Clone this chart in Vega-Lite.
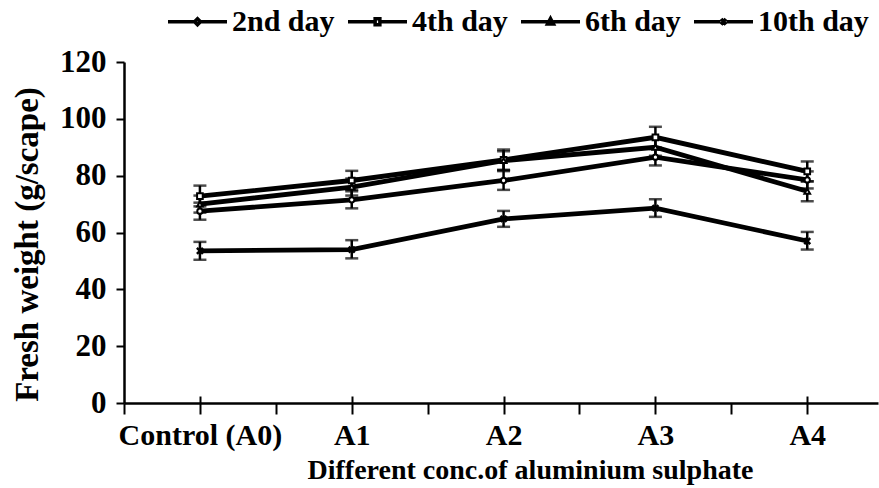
{
  "$schema": "https://vega.github.io/schema/vega-lite/v6.json",
  "width": 754,
  "height": 341,
  "autosize": "none",
  "padding": {"left": 124, "top": 62, "right": 1, "bottom": 85},
  "background": "white",
  "config": {"view": {"stroke": null}, "font": "Liberation Serif"},
  "data": {
    "values": [
      {"series": "2nd day", "idx": 0, "fw": 67.5, "lo": 64.5, "hi": 70.5},
      {"series": "2nd day", "idx": 1, "fw": 71.5, "lo": 68.5, "hi": 74.5},
      {"series": "2nd day", "idx": 2, "fw": 78.3, "lo": 75.0, "hi": 81.6},
      {"series": "2nd day", "idx": 3, "fw": 86.5, "lo": 83.6, "hi": 89.4},
      {"series": "2nd day", "idx": 4, "fw": 78.5, "lo": 75.5, "hi": 81.5},
      {"series": "4th day", "idx": 0, "fw": 72.8, "lo": 69.2, "hi": 76.5},
      {"series": "4th day", "idx": 1, "fw": 78.3, "lo": 75.0, "hi": 81.7},
      {"series": "4th day", "idx": 2, "fw": 85.6, "lo": 82.0, "hi": 89.2},
      {"series": "4th day", "idx": 3, "fw": 93.5, "lo": 89.9, "hi": 97.2},
      {"series": "4th day", "idx": 4, "fw": 81.5, "lo": 78.0, "hi": 85.0},
      {"series": "6th day", "idx": 0, "fw": 70.0, "lo": 67.0, "hi": 73.0},
      {"series": "6th day", "idx": 1, "fw": 76.0, "lo": 73.0, "hi": 79.0},
      {"series": "6th day", "idx": 2, "fw": 85.3, "lo": 82.0, "hi": 88.6},
      {"series": "6th day", "idx": 3, "fw": 90.0, "lo": 87.0, "hi": 93.0},
      {"series": "6th day", "idx": 4, "fw": 74.5, "lo": 71.0, "hi": 78.0},
      {"series": "10th day", "idx": 0, "fw": 53.5, "lo": 50.4, "hi": 56.7},
      {"series": "10th day", "idx": 1, "fw": 54.0, "lo": 50.9, "hi": 57.3},
      {"series": "10th day", "idx": 2, "fw": 64.8, "lo": 62.0, "hi": 67.6},
      {"series": "10th day", "idx": 3, "fw": 68.6, "lo": 65.5, "hi": 71.7},
      {"series": "10th day", "idx": 4, "fw": 57.0, "lo": 54.0, "hi": 60.2}
    ]
  },
  "resolve": {"axis": {"x": "independent"}},
  "layer": [
    {
      "mark": {"type": "line", "strokeWidth": 4.8, "color": "black"},
      "encoding": {
        "x": {
          "field": "idx", "type": "quantitative",
          "scale": {"domain": [-0.5, 4.466], "nice": false, "zero": false},
          "axis": {
            "orient": "bottom",
            "values": [-0.5, 0, 0.5, 1, 1.5, 2, 2.5, 3, 3.5, 4],
            "labelExpr": "datum.value == 0 ? 'Control (A0)' : (datum.value == 1 ? 'A1' : (datum.value == 2 ? 'A2' : (datum.value == 3 ? 'A3' : (datum.value == 4 ? 'A4' : ''))))",
            "labelOverlap": false, "labelBound": false, "labelFlush": false,
            "labelFont": "Liberation Serif", "labelFontWeight": "bold", "labelFontSize": 30, "labelColor": "black",
            "labelPadding": 6,
            "tickSize": 11, "tickColor": "black", "tickWidth": 2,
            "domainColor": "black", "domainWidth": 2.5,
            "grid": false,
            "title": "Different conc.of aluminium sulphate",
            "titleFont": "Liberation Serif", "titleFontWeight": "bold", "titleFontSize": 28, "titleColor": "black",
            "titleX": 406, "titleY": 53, "titleBaseline": "top"
          }
        },
        "y": {
          "field": "fw", "type": "quantitative",
          "scale": {"domain": [0, 120], "nice": false},
          "axis": {
            "values": [0, 20, 40, 60, 80, 100, 120],
            "labelFont": "Liberation Serif", "labelFontWeight": "bold", "labelFontSize": 31, "labelColor": "black",
            "labelPadding": 10,
            "tickSize": 8, "tickColor": "black", "tickWidth": 2,
            "domainColor": "black", "domainWidth": 2.5,
            "grid": false,
            "title": "Fresh weight (g/scape)",
            "titleFont": "Liberation Serif", "titleFontWeight": "bold", "titleFontSize": 33, "titleColor": "black",
            "titlePadding": 15, "titleY": 182
          }
        },
        "color": {
          "field": "series", "type": "nominal",
          "scale": {"domain": ["2nd day", "4th day", "6th day", "10th day"], "range": ["black", "black", "black", "black"]},
          "legend": {
            "orient": "none", "direction": "horizontal",
            "legendX": 42, "legendY": -72,
            "title": null,
            "symbolType": "M-1,0H-0.1M0.1,0H1M-0.08,-0.1H0.08V0.1H-0.08Z",
            "symbolSize": 3481,
            "symbolStrokeWidth": 3.5,
            "labelFont": "Liberation Serif", "labelFontWeight": "bold", "labelFontSize": 30, "labelColor": "black",
            "labelOffset": 3, "columnPadding": 6,
            "encode": {"symbols": {"update": {
              "fill": {"value": "white"}, "stroke": {"value": "black"}, "opacity": {"value": 1},
              "shape": {"signal": "datum.label == '2nd day' ? 'M-1,0H-0.1M0.1,0H1M0,-0.1L0.1,0L0,0.1L-0.1,0Z' : (datum.label == '4th day' ? 'M-1,0H-0.1M0.1,0H1M-0.08,-0.1H0.08V0.1H-0.08Z' : (datum.label == '6th day' ? 'M-1,0H-0.1M0.1,0H1M0,-0.11L0.1,0.08H-0.1Z' : 'M-1,0H-0.1M0.1,0H1M-0.08,-0.1L0.08,0.1M0.08,-0.1L-0.08,0.1'))"}
            }}}
          }
        }
      }
    },
    {
      "mark": {"type": "errorbar", "ticks": {"size": 13, "thickness": 2.5, "color": "black"}, "thickness": 2.5, "color": "black"},
      "encoding": {
        "x": {"field": "idx", "type": "quantitative", "axis": null},
        "y": {"field": "lo", "type": "quantitative", "title": "Fresh weight (g/scape)"},
        "y2": {"field": "hi"},
        "detail": {"field": "series"}
      }
    },
    {
      "transform": [{"filter": "datum.series == '2nd day'"}],
      "mark": {"type": "point", "shape": "circle", "fill": "white", "filled": true, "stroke": "black", "strokeWidth": 2, "size": 28, "opacity": 1},
      "encoding": {
        "x": {
          "field": "idx", "type": "quantitative",
          "axis": {"orient": "bottom", "values": [0, 1, 2, 3, 4], "labels": false, "domain": false, "grid": false, "title": null, "tickSize": -7, "tickColor": "black", "tickWidth": 2}
        },
        "y": {"field": "fw", "type": "quantitative", "title": "Fresh weight (g/scape)"}
      }
    },
    {
      "transform": [{"filter": "datum.series == '4th day'"}],
      "mark": {"type": "point", "shape": "square", "fill": "white", "filled": true, "stroke": "black", "strokeWidth": 2, "size": 32, "opacity": 1},
      "encoding": {
        "x": {"field": "idx", "type": "quantitative", "axis": null},
        "y": {"field": "fw", "type": "quantitative", "title": "Fresh weight (g/scape)"}
      }
    },
    {
      "transform": [{"filter": "datum.series == '6th day'"}],
      "mark": {"type": "point", "shape": "triangle-up", "fill": "white", "filled": true, "stroke": "black", "strokeWidth": 2, "size": 32, "opacity": 1},
      "encoding": {
        "x": {"field": "idx", "type": "quantitative", "axis": null},
        "y": {"field": "fw", "type": "quantitative", "title": "Fresh weight (g/scape)"}
      }
    },
    {
      "transform": [{"filter": "datum.series == '10th day'"}],
      "mark": {"type": "point", "shape": "M-1,-1L1,1M1,-1L-1,1", "filled": false, "stroke": "black", "strokeWidth": 2.5, "size": 36, "opacity": 1},
      "encoding": {
        "x": {"field": "idx", "type": "quantitative", "axis": null},
        "y": {"field": "fw", "type": "quantitative", "title": "Fresh weight (g/scape)"}
      }
    }
  ]
}
